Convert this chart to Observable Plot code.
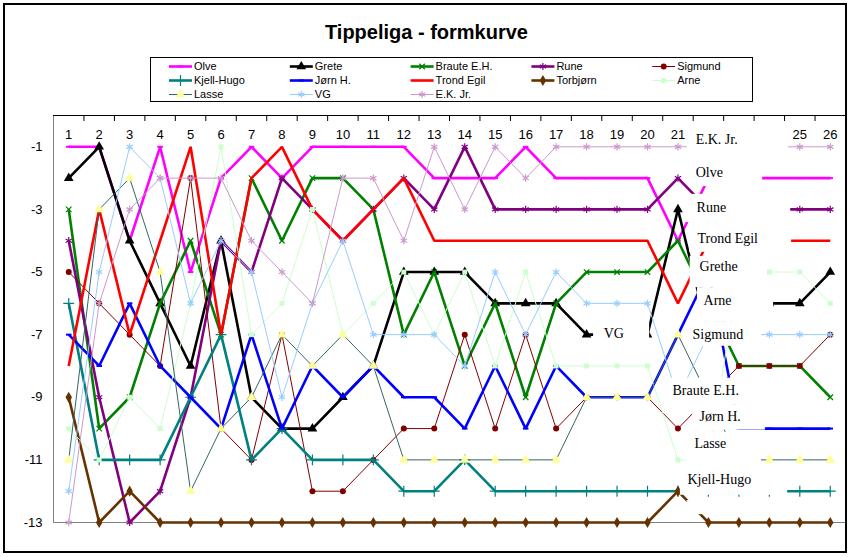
<!DOCTYPE html>
<html>
<head>
<meta charset="utf-8">
<script src="https://cdn.jsdelivr.net/npm/d3@7"></script>
<script src="https://cdn.jsdelivr.net/npm/@observablehq/plot@0.6"></script>
<style>
html,body{margin:0;padding:0;background:#fff;}
#wrap{position:relative;width:853px;height:557px;overflow:hidden;font-family:Arial,"Liberation Sans",sans-serif;}
#frame{position:absolute;left:3px;top:3px;width:844px;height:550px;box-sizing:border-box;border:2px solid #000;pointer-events:none;}
#title{position:absolute;left:0;top:20px;width:853px;text-align:center;font-weight:bold;font-size:20px;line-height:24px;color:#000;}
#plot{position:absolute;left:0;top:0;}
#legend{position:absolute;left:149px;top:56px;}
</style>
</head>
<body>
<div id="wrap">
  <div id="plot"></div>
  <div id="title">Tippeliga - formkurve</div>
  <svg id="legend"></svg>
  <div id="frame"></div>
</div>
<script>
// ---------- data ----------
const rounds = d3.range(1, 27);
// round labels that are visible (22-24 are covered by the "E.K. Jr." label box in the original)
const roundLabels = [1,2,3,4,5,6,7,8,9,10,11,12,13,14,15,16,17,18,19,20,21,25,26];
const yTicks = [-1, -3, -5, -7, -9, -11, -13];
const tickBetween = d3.range(1.5, 26, 1);

const seriesNames = ["Olve", "Grete", "Braute E.H.", "Rune", "Sigmund", "Kjell-Hugo", "Jørn H.", "Trond Egil", "Torbjørn", "Arne", "Lasse", "VG", "E.K. Jr."];

const olve     = [-1,-1,-4,-1,-5,-2,-1,-2,-1,-1,-1,-1,-2,-2,-2,-1,-2,-2,-2,-2,-4,-2,-2,-2,-2,-2];
const grete    = [-2,-1,-4,-6,-8,-4,-9,-10,-10,-9,-8,-5,-5,-5,-6,-6,-6,-7,-7,-7,-3,-7,-6,-6,-6,-5];
const braute   = [-3,-10,-9,-6,-4,-7,-2,-4,-2,-2,-3,-7,-5,-8,-6,-9,-6,-5,-5,-5,-4,-6,-8,-8,-8,-9];
const rune     = [-4,-9,-13,-12,-9,-4,-5,-2,-3,-4,-3,-2,-3,-1,-3,-3,-3,-3,-3,-3,-2,-3,-3,-3,-3,-3];
const sigmund  = [-5,-6,-7,-8,-2,-10,-11,-7,-12,-12,-11,-10,-10,-7,-10,-7,-10,-9,-9,-9,-10,-9,-8,-8,-8,-7];
const kjell    = [-6,-11,-11,-11,-9,-7,-11,-10,-11,-11,-11,-12,-12,-11,-12,-12,-12,-12,-12,-12,-12,-12,-12,-12,-12,-12];
const jorn     = [-7,-8,-6,-8,-9,-10,-7,-10,-8,-9,-8,-9,-9,-10,-8,-10,-8,-9,-9,-9,-7,-5,-10,-10,-10,-10];
const trond    = [-8,-3,-7,-4,-1,-7,-2,-1,-3,-4,-3,-2,-4,-4,-4,-4,-4,-4,-4,-4,-6,-4,-4,-4,-4,-4];
const torbjorn = [-9,-13,-12,-13,-13,-13,-13,-13,-13,-13,-13,-13,-13,-13,-13,-13,-13,-13,-13,-13,-12,-13,-13,-13,-13,-13];
const arne     = [-10,-11,-9,-10,-6,-1,-7,-6,-3,-7,-6,-5,-7,-5,-8,-5,-8,-8,-8,-8,-11,-11,-5,-5,-5,-6];
const lasse    = [-11,-3,-2,-5,-12,-10,-9,-7,-8,-7,-8,-11,-11,-11,-11,-11,-11,-9,-9,-9,-7,-9,-11,-11,-11,-11];
const vg       = [-12,-5,-1,-2,-6,-4,-5,-9,-6,-4,-7,-7,-7,-8,-5,-7,-5,-6,-6,-6,-9,-7,-7,-7,-7,-7];
const ek       = [-13,-6,-3,-2,-2,-2,-4,-5,-6,-2,-2,-4,-1,-3,-1,-2,-1,-1,-1,-1,-1,-1,-1,-1,-1,-1];

const seriesValues = [olve, grete, braute, rune, sigmund, kjell, jorn, trond, torbjorn, arne, lasse, vg, ek];

// in-chart label boxes (text, anchor, white box extent)
const labelTexts = ["E.K. Jr.", "Olve", "Rune", "Trond Egil", "Grethe", "Arne", "Sigmund", "Braute E.H.", "Jørn H.", "Lasse", "Kjell-Hugo", "VG", ""];
const labelX  = [21.58, 21.58, 21.61, 21.64, 21.71, 21.84, 21.48, 20.82, 21.71, 21.54, 21.31, 18.56, 21.40];
const labelY  = [-0.77, -1.82, -2.94, -3.93, -4.82, -5.90, -6.99, -8.78, -9.61, -10.47, -11.62, -6.96, -12.5];
const boxX1   = [21.31, 21.35, 21.25, 21.38, 21.40, 21.64, 21.35, 20.69, 21.48, 21.28, 21.08, 18.23, 21.30];
const boxX2   = [24.63, 23.78, 24.70, 24.73, 23.94, 24.14, 23.74, 23.05, 23.87, 23.74, 24.60, 20.07, 21.92];
const boxY1   = [-0.29, -1.44, -2.52, -3.54, -4.50, -5.50, -6.61, -8.39, -9.26, -10.12, -11.24, -6.48, -12.30];
const boxY2   = [-1.37, -2.27, -3.42, -4.37, -5.50, -6.61, -7.37, -9.26, -10.05, -11.14, -12.13, -7.37, -12.75];

// ---------- styles ----------
const lineColors  = ["#FF00FF","#000000","#008000","#800080","#800000","#008080","#0000FF","#FF0000","#663300","#CCFFCC","#336666","#99CCFF","#CC99CC"];
const lineWidths  = [2.6,2.6,2.6,2.6,1,2.6,2.6,2.6,2.6,1,1,1,1];
const markerTypes = ["dash","triangle","times","asterisk","circle","plus","dash",null,"diamond","square","triangle","asterisk","asterisk"];
const markerColors= ["#FF00FF","#000000","#008000","#800080","#800000","#008080","#0000FF",null,"#663300","#CCFFCC","#FFFF99","#99CCFF","#CC99CC"];

const dash = {draw(ctx, size) { const w = Math.sqrt(size / Math.PI); ctx.moveTo(-w, 0); ctx.lineTo(w, 0); }};
const fillTypes = new Set(["triangle", "circle", "diamond", "square"]);
const markerR = {triangle: 3.6, circle: 3, diamond: 3.4, square: 2.8, times: 2.6, asterisk: 3.4, plus: 3.6, dash: 2.8};

function dotOptions(i) {
  const t = markerTypes[i], c = markerColors[i];
  const sym = t === "dash" ? dash : t;
  if (fillTypes.has(t)) return {symbol: sym, r: markerR[t], fill: c, stroke: "none"};
  return {symbol: sym, r: markerR[t], fill: "none", stroke: c, strokeWidth: t === "dash" ? 2 : 1.2};
}

// ---------- plot ----------
const marks = [
  Plot.frame({stroke: "#808080"}),
  Plot.ruleY([0], {stroke: "#000"}),
  Plot.axisX({anchor: "top", ticks: tickBetween, tickSize: 5, dy: 5, tickFormat: () => "", stroke: "#000"}),
  Plot.axisX({anchor: "top", ticks: roundLabels, tickSize: 0, tickPadding: 0, dy: 23, tickFormat: d => String(d), fill: "#000"}),
  Plot.axisY({anchor: "left", ticks: yTicks, tickSize: 0, tickPadding: 11, tickFormat: d => String(d), fill: "#000"})
];

seriesNames.forEach((name, i) => {
  const rows = rounds.map((r, j) => ({round: r, value: seriesValues[i][j], name}));
  marks.push(Plot.line(rows, {x: "round", y: "value", stroke: lineColors[i], strokeWidth: lineWidths[i], strokeLinejoin: "miter", strokeLinecap: "butt"}));
  if (markerTypes[i]) marks.push(Plot.dot(rows, {x: "round", y: "value", ...dotOptions(i)}));
});

const labelRows = labelTexts.map((t, k) => ({text: t, x: labelX[k], y: labelY[k], x1: boxX1[k], x2: boxX2[k], y1: boxY1[k], y2: boxY2[k]}));
marks.push(Plot.rect(labelRows, {x1: "x1", x2: "x2", y1: "y1", y2: "y2", fill: "white"}));
marks.push(Plot.text(labelRows.filter(d => d.text), {x: "x", y: "y", text: "text", textAnchor: "start", fontFamily: "'Liberation Serif','Times New Roman',serif", fontSize: 14, fill: "#000"}));

const chart = Plot.plot({
  width: 853,
  height: 557,
  marginLeft: 53,
  marginRight: 8,
  marginTop: 115,
  marginBottom: 35,
  x: {type: "linear", domain: [0.5, 26.5]},
  y: {type: "linear", domain: [-13, 0]},
  style: {background: "transparent", fontFamily: "Arial, 'Liberation Sans', sans-serif", fontSize: "13px", color: "#000", overflow: "visible"},
  marks
});
document.getElementById("plot").appendChild(chart);

// ---------- legend ----------
const symMap = {triangle: d3.symbolTriangle, circle: d3.symbolCircle, diamond: d3.symbolDiamond, square: d3.symbolSquare,
  times: d3.symbolTimes, asterisk: d3.symbolAsterisk, plus: d3.symbolPlus, dash: dash};
const leg = d3.select("#legend").attr("width", 605).attr("height", 47);
leg.append("rect").attr("x", 1.5).attr("y", 1.5).attr("width", 602).attr("height", 44)
  .attr("fill", "white").attr("stroke", "#000").attr("stroke-width", 1);
seriesNames.forEach((name, i) => {
  const col = i % 5, row = Math.floor(i / 5);
  const x0 = 20 + col * 120.8, y0 = 10.5 + row * 14;
  const g = leg.append("g");
  g.append("line").attr("x1", x0).attr("x2", x0 + 23).attr("y1", y0).attr("y2", y0)
    .attr("stroke", lineColors[i]).attr("stroke-width", lineWidths[i]);
  const t = markerTypes[i];
  if (t) {
    const r = markerR[t];
    const p = g.append("path").attr("transform", `translate(${x0 + 11.5},${y0})`)
      .attr("d", d3.symbol(symMap[t], r * r * Math.PI)());
    if (fillTypes.has(t)) p.attr("fill", markerColors[i]).attr("stroke", "none");
    else p.attr("fill", "none").attr("stroke", markerColors[i]).attr("stroke-width", t === "dash" ? 2 : 1.2);
  }
  g.append("text").attr("x", x0 + 25).attr("y", y0).attr("dy", "0.35em")
    .attr("font-size", 11).attr("font-family", "Arial, 'Liberation Sans', sans-serif").attr("fill", "#000").text(name);
});
</script>
</body>
</html>
